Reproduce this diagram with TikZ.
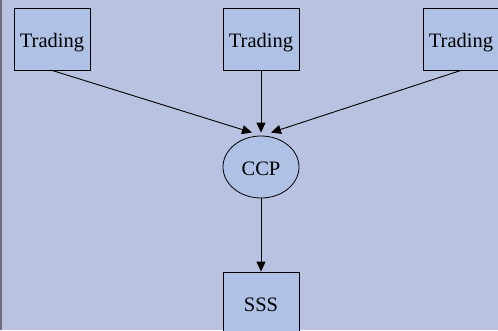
\documentclass[tikz,border=0pt]{standalone}
\usepackage{fontspec}
\setmainfont{Liberation Serif}
\usetikzlibrary{shapes.geometric, arrows.meta, positioning}
\definecolor{bglav}{RGB}{185, 194, 224}
\definecolor{boxblue}{RGB}{175, 194, 229}
\definecolor{edgegray}{RGB}{108, 108, 122}

\begin{document}
\begin{tikzpicture}[x=1pt, y=-1pt,
    tradebox/.style={draw=black, fill=boxblue, line width=0.8pt, minimum width=76pt, minimum height=62pt, inner sep=0pt, text height=17pt, text depth=1pt, font=\fontsize{20.5}{24}\selectfont},
    hub/.style={ellipse, draw=black, fill=boxblue, line width=0.8pt, minimum width=76pt, minimum height=62pt, inner sep=0pt, text height=17pt, text depth=1pt, font=\fontsize{20.5}{24}\selectfont},
    link/.style={draw=black, line width=0.9pt, -{Triangle[length=10pt, width=9pt]}}]
  \useasboundingbox (0,0) rectangle (498,330);
  \clip (0,0) rectangle (498,330);
  % background
  \fill[bglav] (0,0) rectangle (498,330);
  \fill[edgegray] (0,0) rectangle (2,330);

  % trading venues
  \node[tradebox] (trade1) at (52,39) {Trading};
  \node[tradebox] (trade2) at (261,39) {Trading};
  \node[tradebox] (trade3) at (461,39) {Trading};

  % clearing and settlement
  \node[hub] (ccp) at (261,167) {CCP};
  \node[tradebox] (sss) at (261,303) {SSS};

  \draw[link] (trade1.south) -- ([xshift=-9pt, yshift=3pt]ccp.north);
  \draw[link] (trade2.south) -- ([yshift=3pt]ccp.north);
  \draw[link] (trade3.south) -- ([xshift=10pt, yshift=3pt]ccp.north);
  \draw[link] (ccp.south) -- (sss.north);
\end{tikzpicture}
\end{document}
